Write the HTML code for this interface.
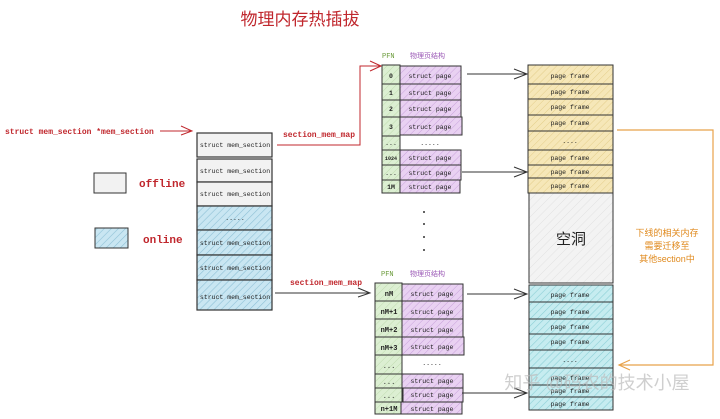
<!DOCTYPE html>
<html><head><meta charset="utf-8"><style>
html,body{margin:0;padding:0;background:#fff}
svg{display:block}
text{font-family:"Liberation Mono","Noto Sans CJK SC",monospace}
.cj{font-family:"Liberation Sans","Noto Sans CJK SC",sans-serif}
</style></head><body>
<svg width="720" height="419" viewBox="0 0 720 419" xmlns="http://www.w3.org/2000/svg">
<defs>
<pattern id="hb" width="5" height="5" patternUnits="userSpaceOnUse" patternTransform="rotate(45)"><rect width="5" height="5" fill="#c9e6f2"/><line x1="0" y1="0" x2="0" y2="5" stroke="#8fc1d6" stroke-width="1.2"/></pattern>
<pattern id="hc" width="5" height="5" patternUnits="userSpaceOnUse" patternTransform="rotate(45)"><rect width="5" height="5" fill="#c6ecf0"/><line x1="0" y1="0" x2="0" y2="5" stroke="#8ccfd6" stroke-width="1.2"/></pattern>
<pattern id="hy" width="5" height="5" patternUnits="userSpaceOnUse" patternTransform="rotate(45)"><rect width="5" height="5" fill="#f6e7b8"/><line x1="0" y1="0" x2="0" y2="5" stroke="#e3cd8a" stroke-width="1"/></pattern>
<pattern id="hp" width="5" height="5" patternUnits="userSpaceOnUse" patternTransform="rotate(45)"><rect width="5" height="5" fill="#e9d1f2"/><line x1="0" y1="0" x2="0" y2="5" stroke="#c9a3dc" stroke-width="1"/></pattern>
<pattern id="hg" width="5" height="5" patternUnits="userSpaceOnUse" patternTransform="rotate(45)"><rect width="5" height="5" fill="#dcefd2"/><line x1="0" y1="0" x2="0" y2="5" stroke="#c0dcb0" stroke-width="1"/></pattern>
<pattern id="hw" width="6" height="6" patternUnits="userSpaceOnUse" patternTransform="rotate(45)"><rect width="6" height="6" fill="#f3f3f3"/><line x1="0" y1="0" x2="0" y2="6" stroke="#e2e2e2" stroke-width="1"/></pattern>
</defs>

<text x="300" y="25" class="cj" font-size="17" fill="#c0272d" text-anchor="middle">物理内存热插拔</text>

<!-- left pointer -->
<text x="5" y="134" font-size="8" fill="#c0272d" font-weight="bold">struct mem_section *mem_section</text>
<g stroke="#c0272d" stroke-width="1" fill="none">
<line x1="160" y1="131" x2="192" y2="131"/><polyline points="181,126 192,131 181,135"/>
</g>

<!-- legend -->
<rect x="94" y="173" width="32" height="20" fill="#f2f2f2" stroke="#333"/>
<text x="139" y="187" font-size="11" fill="#c0272d" font-weight="bold">offline</text>
<rect x="95" y="228" width="33" height="20" fill="url(#hb)" stroke="#333"/>
<text x="143" y="243" font-size="11" fill="#c0272d" font-weight="bold">online</text>

<!-- mem_section column -->
<g stroke="#333" stroke-width="1.2" font-size="6.5">
<rect x="197" y="133" width="75" height="24" fill="#f2f2f2"/>
<rect x="197" y="159" width="75" height="23" fill="#f2f2f2"/>
<rect x="197" y="182" width="75" height="24" fill="#f2f2f2"/>
<rect x="197" y="206" width="75" height="24" fill="url(#hb)"/>
<rect x="197" y="230" width="75" height="25" fill="url(#hb)"/>
<rect x="197" y="255" width="75" height="25" fill="url(#hb)"/>
<rect x="197" y="280" width="75" height="30" fill="url(#hb)"/>
</g>
<g font-size="6.5" fill="#222" text-anchor="middle">
<text x="235" y="147">struct mem_section</text>
<text x="235" y="173">struct mem_section</text>
<text x="235" y="196">struct mem_section</text>
<text x="235" y="220">.....</text>
<text x="235" y="245">struct mem_section</text>
<text x="235" y="270">struct mem_section</text>
<text x="235" y="299">struct mem_section</text>
</g>

<!-- section_mem_map arrows -->
<text x="283" y="137" font-size="8" fill="#c0272d" font-weight="bold">section_mem_map</text>
<g stroke="#c0272d" stroke-width="1" fill="none">
<polyline points="277,145 360,145 360,66 381,66"/><polyline points="370,61 381,66 370,71"/>
</g>
<text x="290" y="285" font-size="8" fill="#c0272d" font-weight="bold">section_mem_map</text>
<g stroke="#333" stroke-width="1" fill="none">
<line x1="275" y1="293" x2="370" y2="293"/><polyline points="358,288 370,293 358,297"/>
</g>

<!-- top PFN -->
<text x="382" y="58" font-size="7" fill="#6a9a3a">PFN</text>
<text x="410" y="58" class="cj" font-size="7" fill="#9b59b6">物理页结构</text>
<g stroke="#333" stroke-width="1">
<rect x="382" y="65" width="18" height="128" fill="url(#hg)"/>
<rect x="400" y="66" width="61" height="18" fill="url(#hp)"/>
<rect x="400" y="84" width="61" height="16" fill="url(#hp)"/>
<rect x="400" y="100" width="61" height="17" fill="url(#hp)"/>
<rect x="400" y="117" width="62" height="18" fill="url(#hp)"/>
<rect x="400" y="150" width="61" height="15" fill="url(#hp)"/>
<rect x="400" y="165" width="61" height="15" fill="url(#hp)"/>
<rect x="400" y="180" width="60" height="13" fill="url(#hp)"/>
<line x1="382" y1="84" x2="400" y2="84"/><line x1="382" y1="100" x2="400" y2="100"/><line x1="382" y1="117" x2="400" y2="117"/><line x1="382" y1="136" x2="400" y2="136"/><line x1="382" y1="150" x2="400" y2="150"/><line x1="382" y1="165" x2="400" y2="165"/><line x1="382" y1="180" x2="400" y2="180"/>
</g>
<g font-size="6.5" fill="#222">
<g text-anchor="middle" font-weight="bold"><text x="391" y="78">0</text><text x="391" y="95">1</text><text x="391" y="111">2</text><text x="391" y="129">3</text><text x="391" y="145" font-weight="normal">...</text><text x="391" y="160" font-size="5">1024</text><text x="391" y="175" font-weight="normal">...</text><text x="391" y="189">1M</text></g>
<g text-anchor="middle"><text x="430" y="78">struct page</text><text x="430" y="95">struct page</text><text x="430" y="111">struct page</text><text x="430" y="129">struct page</text><text x="430" y="145">.....</text><text x="430" y="160">struct page</text><text x="430" y="175">struct page</text><text x="430" y="189">struct page</text></g>
</g>

<!-- vertical dots -->
<g fill="#333"><circle cx="424" cy="212" r="1"/><circle cx="424" cy="224" r="1"/><circle cx="424" cy="237" r="1"/><circle cx="424" cy="250" r="1"/></g>

<!-- bottom PFN -->
<text x="381" y="276" font-size="7" fill="#6a9a3a">PFN</text>
<text x="410" y="276" class="cj" font-size="7" fill="#9b59b6">物理页结构</text>
<g stroke="#333" stroke-width="1">
<rect x="375" y="283" width="27" height="131" fill="url(#hg)"/>
<rect x="402" y="284" width="61" height="17" fill="url(#hp)"/>
<rect x="402" y="301" width="61" height="18" fill="url(#hp)"/>
<rect x="402" y="319" width="61" height="18" fill="url(#hp)"/>
<rect x="402" y="337" width="62" height="18" fill="url(#hp)"/>
<rect x="402" y="374" width="61" height="14" fill="url(#hp)"/>
<rect x="403" y="388" width="60" height="14" fill="url(#hp)"/>
<rect x="401" y="402" width="61" height="12" fill="url(#hp)"/>
<line x1="375" y1="301" x2="402" y2="301"/><line x1="375" y1="319" x2="402" y2="319"/><line x1="375" y1="337" x2="402" y2="337"/><line x1="375" y1="355" x2="402" y2="355"/><line x1="375" y1="374" x2="402" y2="374"/><line x1="375" y1="388" x2="402" y2="388"/><line x1="375" y1="402" x2="402" y2="402"/>
</g>
<g font-size="7" fill="#222">
<g text-anchor="middle" font-weight="bold"><text x="389" y="296">nM</text><text x="389" y="314">nM+1</text><text x="389" y="332">nM+2</text><text x="389" y="350">nM+3</text><text x="389" y="368" font-weight="normal">...</text><text x="389" y="384" font-weight="normal">...</text><text x="389" y="398" font-weight="normal">...</text><text x="389" y="411">n+1M</text></g>
<g text-anchor="middle" font-size="6.5"><text x="432" y="296">struct page</text><text x="432" y="314">struct page</text><text x="432" y="332">struct page</text><text x="432" y="349">struct page</text><text x="432" y="365">.....</text><text x="432" y="383">struct page</text><text x="432" y="397">struct page</text><text x="432" y="411">struct page</text></g>
</g>

<!-- page frame arrows -->
<g stroke="#333" stroke-width="1" fill="none">
<line x1="467" y1="74" x2="527" y2="74"/><polyline points="514,69 527,74 514,79"/>
<line x1="462" y1="172" x2="527" y2="172"/><polyline points="514,167 527,172 514,177"/>
<line x1="467" y1="294" x2="527" y2="294"/><polyline points="514,289 527,294 514,299"/>
<line x1="462" y1="393" x2="527" y2="393"/><polyline points="514,388 527,393 514,398"/>
</g>

<!-- page frames top -->
<g stroke="#333" stroke-width="1">
<rect x="528" y="65" width="85" height="128" fill="url(#hy)"/>
<line x1="528" y1="84" x2="613" y2="84"/><line x1="528" y1="99" x2="613" y2="99"/><line x1="528" y1="115" x2="613" y2="115"/><line x1="528" y1="131" x2="613" y2="131"/><line x1="528" y1="150" x2="613" y2="150"/><line x1="528" y1="165" x2="613" y2="165"/><line x1="528" y1="178" x2="613" y2="178"/>
<rect x="529" y="193" width="84" height="90" fill="url(#hw)"/>
<rect x="529" y="285" width="84" height="125" fill="url(#hc)"/>
<line x1="529" y1="302" x2="613" y2="302"/><line x1="529" y1="319" x2="613" y2="319"/><line x1="529" y1="334" x2="613" y2="334"/><line x1="529" y1="350" x2="613" y2="350"/><line x1="529" y1="368" x2="613" y2="368"/><line x1="529" y1="385" x2="613" y2="385"/><line x1="529" y1="397" x2="613" y2="397"/>
</g>
<g font-size="6.5" fill="#222" text-anchor="middle">
<text x="570" y="78">page frame</text><text x="570" y="94">page frame</text><text x="570" y="109">page frame</text><text x="570" y="125">page frame</text><text x="570" y="143">....</text><text x="570" y="160">page frame</text><text x="570" y="174">page frame</text><text x="570" y="188">page frame</text>
<text x="570" y="297">page frame</text><text x="570" y="314">page frame</text><text x="570" y="329">page frame</text><text x="570" y="344">page frame</text><text x="570" y="362">....</text><text x="570" y="380">page frame</text><text x="570" y="393">page frame</text><text x="570" y="406">page frame</text>
</g>
<text x="571" y="244" class="cj" font-size="15" fill="#222" text-anchor="middle">空洞</text>

<!-- orange bracket -->
<g stroke="#e8a24a" stroke-width="1.2" fill="none">
<polyline points="617,130 713,130 713,365 619,365"/><polyline points="630,360 619,365 630,370"/>
</g>
<g class="cj" font-size="9" fill="#e08a1e" text-anchor="middle">
<text x="667" y="236" class="cj">下线的相关内存</text>
<text x="667" y="249" class="cj">需要迁移至</text>
<text x="667" y="262" class="cj">其他section中</text>
</g>

<!-- watermark -->
<text x="597" y="389" class="cj" font-size="18" fill="#bbb" fill-opacity="0.7" text-anchor="middle">知乎 @码农的技术小屋</text>
</svg>
</body></html>
